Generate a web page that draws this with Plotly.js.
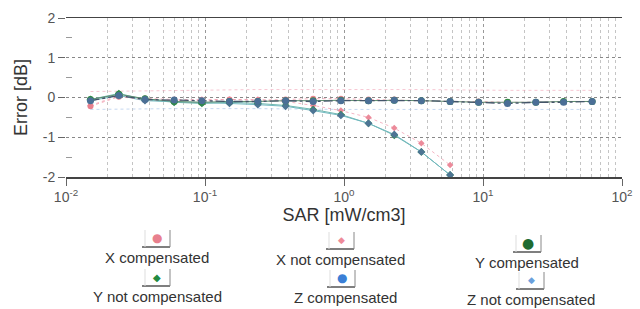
<!DOCTYPE html>
<html>
<head>
<meta charset="utf-8">
<script src="https://cdn.plot.ly/plotly-3.0.1.min.js"></script>
<style>html,body{margin:0;padding:0;background:#fff;}#chart{width:640px;height:309px;}</style>
</head>
<body>
<div id="chart"></div>
<script>
// SAR values (mW/cm3)
const sarComp = [0.015, 0.024, 0.037, 0.06, 0.095, 0.15, 0.24, 0.38, 0.6, 0.95, 1.5, 2.3, 3.6, 5.8, 9.3, 15, 24, 38, 61];
const sarNotComp = [0.015, 0.024, 0.037, 0.06, 0.095, 0.15, 0.24, 0.38, 0.6, 0.95, 1.5, 2.3, 3.6, 5.8];

// Error (dB)
const xComp    = [-0.22, 0.02, -0.05, -0.08, -0.08, -0.05, -0.07, -0.05, -0.03, -0.03, -0.05, -0.05, -0.08, -0.1, -0.1, -0.12, -0.12, -0.1, -0.1];
const yComp    = [-0.05, 0.08, -0.03, -0.1, -0.12, -0.1, -0.1, -0.08, -0.08, -0.07, -0.08, -0.07, -0.08, -0.1, -0.12, -0.12, -0.12, -0.1, -0.1];
const zComp    = [-0.08, 0.05, -0.05, -0.06, -0.08, -0.1, -0.1, -0.08, -0.1, -0.08, -0.08, -0.07, -0.08, -0.1, -0.12, -0.15, -0.12, -0.12, -0.1];
const xNotComp = [-0.2, 0.05, -0.02, -0.05, -0.05, -0.05, -0.05, -0.1, -0.2, -0.33, -0.5, -0.77, -1.15, -1.7];
const yNotComp = [-0.05, 0.1, -0.05, -0.12, -0.15, -0.12, -0.15, -0.2, -0.3, -0.43, -0.65, -0.95, -1.37, -1.95];
const zNotComp = [-0.08, 0.05, -0.08, -0.1, -0.12, -0.15, -0.18, -0.22, -0.33, -0.45, -0.65, -0.93, -1.37, -1.95];

// faint tolerance bands
const bandX = [0.015, 0.06, 0.24, 0.95, 3.6, 15, 61];
const bandUpper = [0.15, 0.18, 0.2, 0.2, 0.2, 0.18, 0.18];
const bandLower = [-0.3, -0.28, -0.28, -0.3, -0.3, -0.3, -0.3];

const xTickVals = [0.01, 0.1, 1, 10, 100];
const xTickText = ['10<sup>-2</sup>', '10<sup>-1</sup>', '10<sup>0</sup>', '10<sup>1</sup>', '10<sup>2</sup>'];
const yTickVals = [-2, -1, 0, 1, 2];
const yTickText = ['-2', '-1', '0', '1', '2'];

const seriesNames = ['X compensated', 'X not compensated', 'Y compensated', 'Y not compensated', 'Z compensated', 'Z not compensated'];
const legendColors = ['#e8808e', '#ee8a98', '#1f6b30', '#228a40', '#3b7fd6', '#6aa0dc'];
const legendSymbols = ['●', '◆', '●', '◆', '●', '◆'];

const minorVals = [];
for (let e = -2; e < 2; e++) for (let m = 2; m <= 9; m++) minorVals.push(m * Math.pow(10, e));

const traces = [
  {x: bandX, y: bandUpper, mode: 'lines', line: {color: 'rgba(240,160,180,0.6)', width: 1, dash: 'dot'}, hoverinfo: 'skip'},
  {x: bandX, y: bandLower, mode: 'lines', line: {color: 'rgba(160,190,230,0.6)', width: 1, dash: 'dot'}, hoverinfo: 'skip'},
  {x: sarNotComp, y: xNotComp, mode: 'lines+markers', line: {color: 'rgba(240,150,170,0.7)', width: 1, dash: 'dot'}, marker: {symbol: 'diamond', size: 5, color: '#ec8a9a'}},
  {x: sarNotComp, y: yNotComp, mode: 'lines+markers', line: {color: '#6fb8b0', width: 1}, marker: {symbol: 'diamond', size: 6, color: '#2f8a55'}},
  {x: sarNotComp, y: zNotComp, mode: 'lines+markers', line: {color: '#72b9c0', width: 1}, marker: {symbol: 'diamond', size: 6, color: '#4d7594'}},
  {x: sarComp, y: xComp, mode: 'lines+markers', line: {color: 'rgba(240,140,160,0.7)', width: 1, dash: 'dot'}, marker: {size: 6, color: '#e8808e'}},
  {x: sarComp, y: yComp, mode: 'lines+markers', line: {color: '#5f8f70', width: 1}, marker: {size: 7, color: '#2f8a45'}},
  {x: sarComp, y: zComp, mode: 'lines+markers', line: {color: '#44556a', width: 1.3, dash: 'dashdot'}, marker: {size: 7, color: '#4b6f96'}}
].map(t => Object.assign({showlegend: false, type: 'scatter'}, t));

// layout helpers: pixel -> paper
const L = 66, R = 18, T = 18, B = 132, W = 640, H = 309;
const pw = W - L - R, ph = H - T - B;
const px = v => (v - L) / pw;
const py = v => (H - B - v) / ph;

const legendPos = [
  {tx: 157, ty: 257, ix: 157, iy: 238},
  {tx: 340, ty: 259, ix: 341, iy: 240},
  {tx: 527, ty: 262, ix: 528, iy: 243},
  {tx: 157, ty: 296, ix: 157, iy: 277},
  {tx: 345, ty: 297, ix: 342, iy: 278},
  {tx: 531, ty: 299, ix: 531, iy: 280}
];
const symbolSize = [12, 9, 14, 10, 12, 9];

const annotations = [];
const shapes = [];
seriesNames.forEach((name, i) => {
  const p = legendPos[i];
  annotations.push({xref: 'paper', yref: 'paper', x: px(p.tx), y: py(p.ty), text: name, showarrow: false,
    xanchor: 'center', yanchor: 'middle', font: {family: 'Liberation Sans, Arial, sans-serif', size: 15, color: '#333'}});
  annotations.push({xref: 'paper', yref: 'paper', x: px(p.ix), y: py(p.iy), text: legendSymbols[i], showarrow: false,
    xanchor: 'center', yanchor: 'middle', font: {family: 'DejaVu Sans, sans-serif', size: symbolSize[i], color: legendColors[i]}});
  shapes.push({type: 'line', xref: 'paper', yref: 'paper', x0: px(p.ix - 15), x1: px(p.ix + 13), y0: py(p.iy + 9), y1: py(p.iy + 9), line: {color: '#555', width: 1.5}});
  shapes.push({type: 'line', xref: 'paper', yref: 'paper', x0: px(p.ix + 13), x1: px(p.ix + 13), y0: py(p.iy + 9), y1: py(p.iy - 8), line: {color: '#888', width: 1}});
  shapes.push({type: 'line', xref: 'paper', yref: 'paper', x0: px(p.ix - 12), x1: px(p.ix - 12), y0: py(p.iy + 9), y1: py(p.iy - 8), line: {color: '#ddd', width: 1}});
});

const layout = {
  width: W, height: H,
  margin: {l: L, r: R, t: T, b: B, pad: 0},
  paper_bgcolor: '#fff', plot_bgcolor: '#fff',
  font: {family: 'Liberation Sans, Arial, sans-serif', color: '#444'},
  xaxis: {
    type: 'log', range: [-2, 2],
    tickvals: xTickVals, ticktext: xTickText, tickfont: {size: 14, color: '#555'},
    ticks: 'outside', ticklen: 7, tickcolor: '#666',
    showgrid: true, gridcolor: '#999', griddash: 'dot', gridwidth: 1,
    minor: {tickvals: minorVals, showgrid: true, gridcolor: '#c4c4c4', griddash: 'dot', gridwidth: 1, ticks: ''},
    showline: true, mirror: true, linecolor: '#444', linewidth: 1.5,
    zeroline: false,
    title: {text: 'SAR [mW/cm3]', font: {size: 18, color: '#333'}, standoff: 4}
  },
  yaxis: {
    range: [-2, 2],
    tickvals: yTickVals, ticktext: yTickText, tickfont: {size: 14, color: '#555'},
    ticks: 'outside', ticklen: 7, tickcolor: '#666',
    showgrid: true, gridcolor: '#888', griddash: 'dot', gridwidth: 1,
    minor: {tickvals: [-1.5, -0.5, 0.5, 1.5], ticks: 'inside', ticklen: 6, tickcolor: '#999', showgrid: false},
    showline: false, zeroline: false,
    title: {text: 'Error [dB]', font: {size: 18, color: '#333'}, standoff: 10}
  },
  annotations: annotations,
  shapes: shapes
};

Plotly.newPlot('chart', traces, layout, {displayModeBar: false, staticPlot: true});
</script>
</body>
</html>
